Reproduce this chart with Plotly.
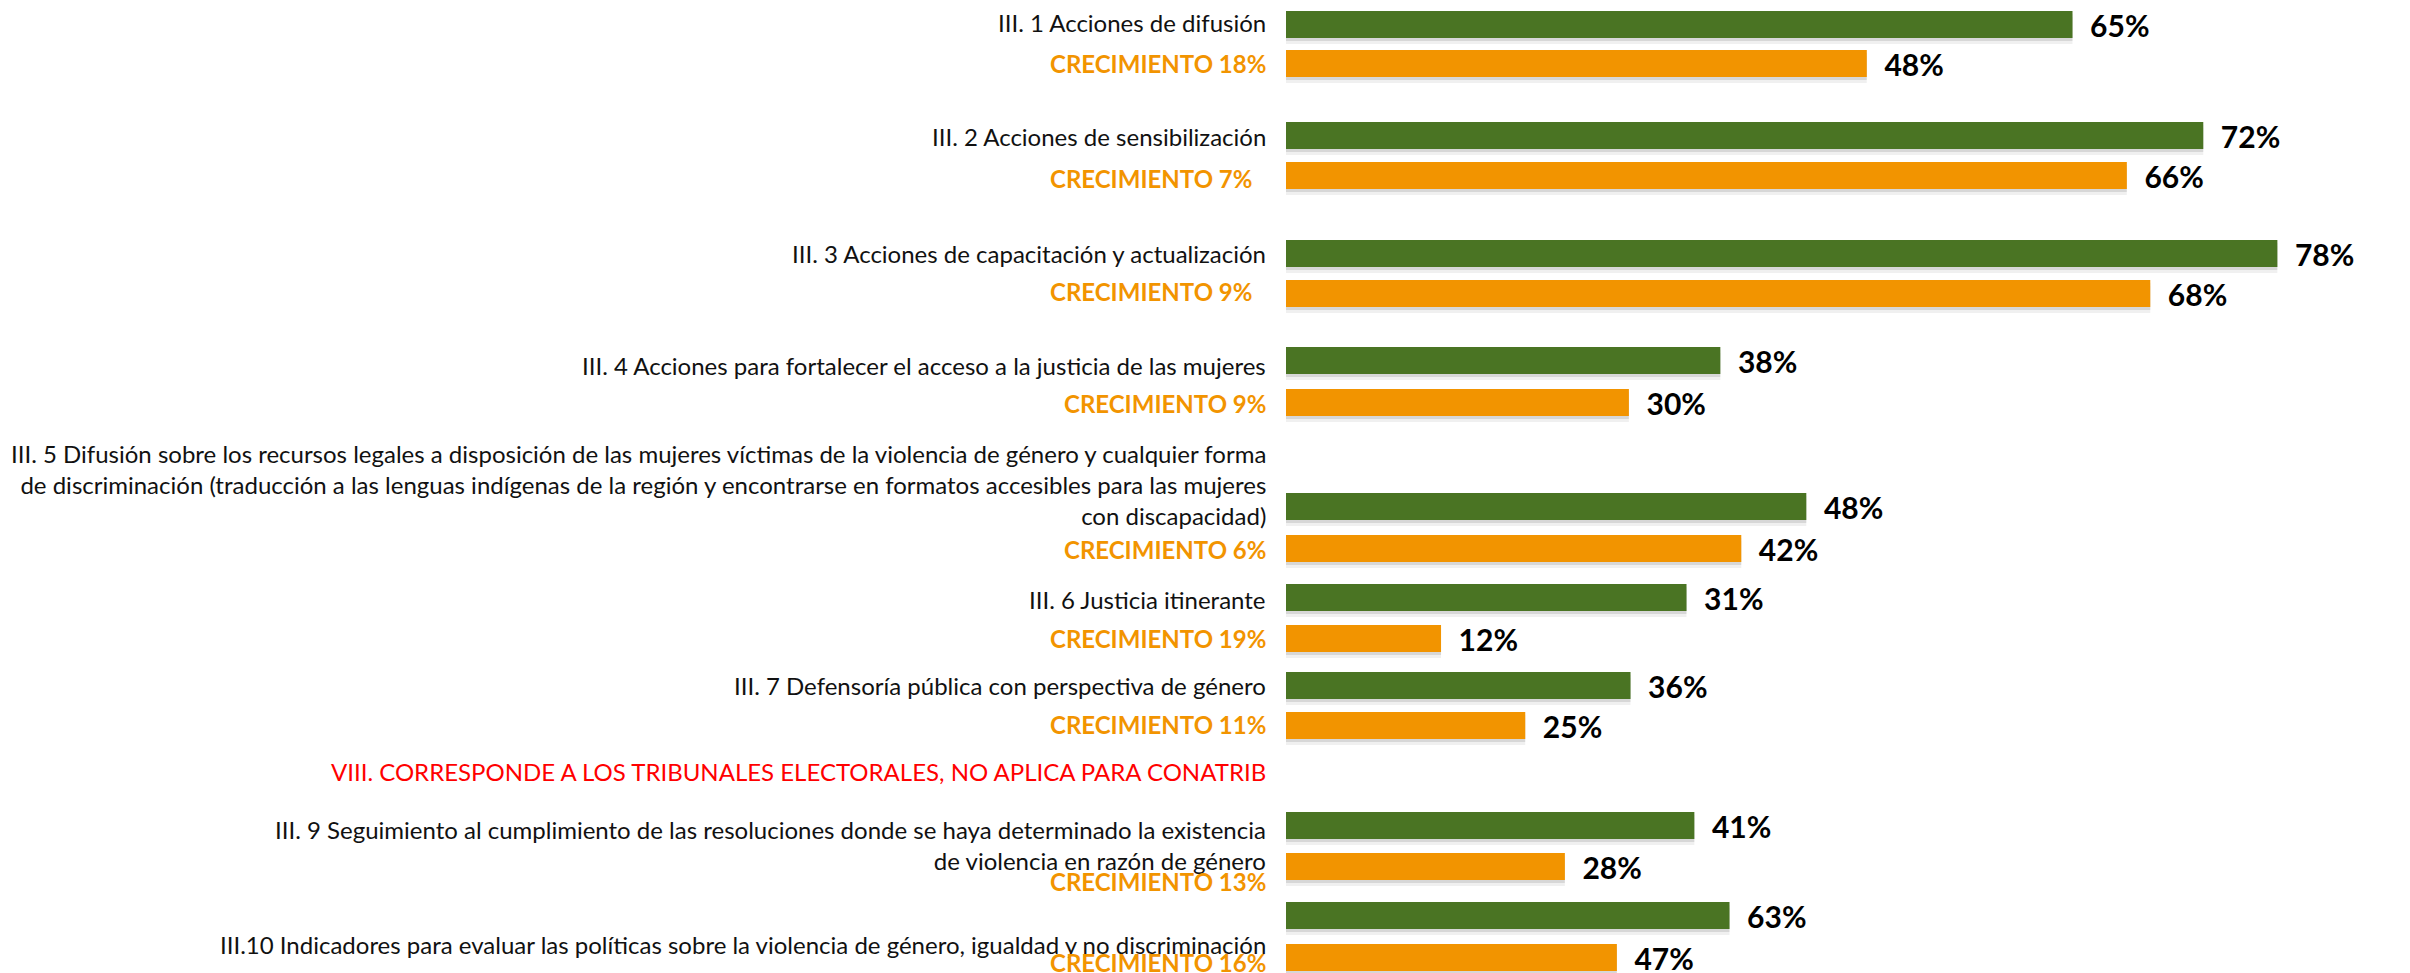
import plotly.graph_objects as go

# ---------------- data ----------------
categories = [
    "III. 1 Acciones de difusión",
    "III. 2 Acciones de sensibilización",
    "III. 3 Acciones de capacitación y actualización",
    "III. 4 Acciones para fortalecer el acceso a la justicia de las mujeres",
    "III. 5 Difusión sobre los recursos legales a disposición de las mujeres víctimas de la violencia de género y cualquier forma<br>"
    "de discriminación (traducción a las lenguas indígenas de la región y encontrarse en formatos accesibles para las mujeres<br>"
    "con discapacidad)",
    "III. 6 Justicia itinerante",
    "III. 7 Defensoría pública con perspectiva de género",
    "III. 9 Seguimiento al cumplimiento de las resoluciones donde se haya determinado la existencia<br>"
    "de violencia en razón de género",
    "III.10 Indicadores para evaluar las políticas sobre la violencia de género, igualdad y no discriminación",
]
pct_actual = [65, 72, 78, 38, 48, 31, 36, 41, 63]
pct_previo = [48, 66, 68, 30, 42, 12, 25, 28, 47]
crecimiento = [18, 7, 9, 9, 6, 19, 11, 13, 16]
nota = "VIII. CORRESPONDE A LOS TRIBUNALES ELECTORALES, NO APLICA PARA CONATRIB"

# ---------------- layout / style ----------------
W, H = 2410, 973
BAR_X0 = 1286          # left edge of the bar panels (px)
LABEL_RIGHT = 1268     # right edge of the left labels (px)
BAR_PX = 27            # bar thickness (px)
GREEN = "#4A7423"
ORANGE = "#F29400"
FONT = "Lato"
LABEL_SIZE = 24
VALUE_SIZE = 30

# vertical centres (px from top) of each panel's two rows: (actual, previo)
row_centres = [(24.5, 63.5), (135.5, 175.5), (253.5, 293.5), (360.5, 402.5),
               (506.5, 548.5), (597.5, 638.5), (685.5, 725.5), (825.5, 866.5),
               (915.5, 957.5)]
# each panel of the original slide is its own little chart with its own scale (px per %)
panel_scale = [12.1, 12.74, 12.71, 11.43, 10.84, 12.92, 9.57, 9.96, 7.04]
# label nudges (px, positive = up)
label_shift_g = [2, -1, 0, -5, 22, -2, 0, -19, -28.5]
label_shift_o = [0, -3, 2, -1, -1, 0, 1, -14.5, -4.5]
label_xshift_o = [0, -14, -14, 0, 0, 0, 0, 0, 0]
NOTE_Y = 771

fig = go.Figure()
annotations = []
layout_axes = {}

for i in range(len(categories)):
    n = i + 1
    xa = "x" if n == 1 else f"x{n}"
    ya = "y" if n == 1 else f"y{n}"
    gc, oc = row_centres[i]
    d = oc - gc
    top, bot = gc - d / 2, oc + d / 2
    lo = -0.5
    if bot > H:
        lo += (bot - H) / d
        bot = H
    w = BAR_PX / d
    cat_o = f"CRECIMIENTO {crecimiento[i]}%"
    cat_g = f"g{n}"

    # soft shadows under the bars
    for val, cat in ((pct_previo[i], cat_o), (pct_actual[i], cat_g)):
        for k, (dy, a) in enumerate(((3, 0.10), (6, 0.06))):
            fig.add_trace(go.Bar(
                x=[val], y=[cat], orientation="h", xaxis=xa, yaxis=ya,
                width=w, offset=-w / 2 - dy / d,
                marker=dict(color=f"rgba(0,0,0,{a})", line=dict(width=0)),
                hoverinfo="skip", showlegend=False,
            ))

    for val, cat, col in ((pct_previo[i], cat_o, ORANGE), (pct_actual[i], cat_g, GREEN)):
        fig.add_trace(go.Bar(
            x=[val], y=[cat], orientation="h", xaxis=xa, yaxis=ya,
            width=w, offset=-w / 2,
            marker=dict(color=col, line=dict(width=0)),
            text=[f"{val}%"], texttemplate="\u00a0\u00a0%{text}",
            textposition="outside", constraintext="none", cliponaxis=False,
            textfont=dict(family=FONT, size=VALUE_SIZE, color="#000000", weight="bold"),
            showlegend=False,
        ))

    xkey = "xaxis" if n == 1 else f"xaxis{n}"
    ykey = "yaxis" if n == 1 else f"yaxis{n}"
    layout_axes[xkey] = dict(domain=[BAR_X0 / W, 1], range=[0, (W - BAR_X0) / panel_scale[i]],
                             anchor=ya, visible=False, fixedrange=True)
    layout_axes[ykey] = dict(domain=[1 - bot / H, 1 - top / H], range=[lo, 1.5],
                             type="category", anchor=xa, visible=False, fixedrange=True)

    annotations.append(dict(
        text=categories[i], xref="paper", x=LABEL_RIGHT / W, xanchor="right",
        yref=ya, y=1, yanchor="middle", yshift=label_shift_g[i], align="right",
        showarrow=False, font=dict(family=FONT, size=LABEL_SIZE, color="#111111"),
    ))
    annotations.append(dict(
        text=cat_o, xref="paper", x=LABEL_RIGHT / W, xanchor="right",
        xshift=label_xshift_o[i],
        yref=ya, y=0, yanchor="middle", yshift=label_shift_o[i], align="right",
        showarrow=False, font=dict(family=FONT, size=LABEL_SIZE, color=ORANGE, weight="bold"),
    ))

annotations.append(dict(
    text=nota, xref="paper", x=LABEL_RIGHT / W, xanchor="right",
    yref="paper", y=1 - NOTE_Y / H, yanchor="middle",
    showarrow=False, font=dict(family=FONT, size=LABEL_SIZE, color="#FF0000"),
))

fig.update_layout(
    width=W, height=H, margin=dict(l=0, r=0, t=0, b=0),
    paper_bgcolor="white", plot_bgcolor="rgba(0,0,0,0)",
    barmode="overlay", showlegend=False,
    annotations=annotations, **layout_axes,
)

fig.write_html("out.html", config={"displayModeBar": False},
               post_script="document.body.style.margin='0';document.body.style.overflow='hidden';")
